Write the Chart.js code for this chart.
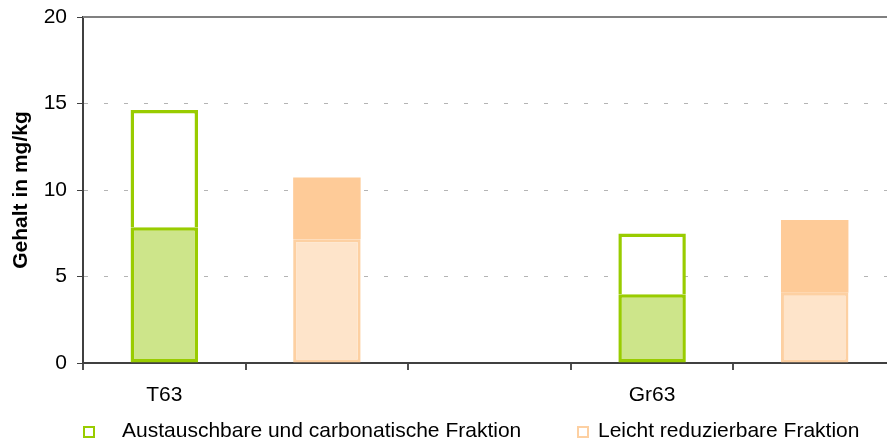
<!DOCTYPE html>
<html lang="de">
  <head>
    <meta charset="UTF-8" />
    <title>Gehalt in mg/kg</title>
    <script src="https://cdn.jsdelivr.net/npm/chart.js"></script>
    <style>
      html, body { margin: 0; padding: 0; background: #fff; overflow: hidden; }
      #wrap { position: relative; width: 896px; height: 441px; }
      #legend { font: 21px "Liberation Sans", Arial, sans-serif; color: #000; }
      .item { position: absolute; top: 418px; white-space: nowrap; line-height: 24px; }
      .box { position: absolute; top: 8px; width: 8px; height: 8px; border: 2px solid; background: #fff; }
    </style>
  </head>
  <body>
    <div id="wrap">
      <canvas id="chart" width="896" height="441"></canvas>
      <div id="legend"></div>
    </div>
    <script>
      const categories = ["T63", "", "", "Gr63", ""];
      const legendLabels = [
        "Austauschbare und carbonatische Fraktion",
        "Leicht reduzierbare Fraktion",
      ];
      // segment heights (mg/kg), stacked
      const greenLower = [7.85, null, null, 3.98, null];
      const greenUpper = [6.77, null, null, 3.51, null];
      const orangeLower = [null, 7.15, null, null, 4.06];
      const orangeUpper = [null, 3.57, null, null, 4.2];
      const yTicks = [0, 5, 10, 15, 20];

      const font = "'Liberation Sans', Arial, sans-serif";

      // solid line at the top value
      const topLine = {
        id: "topLine",
        beforeDatasetsDraw(chart) {
          const { ctx, chartArea, scales } = chart;
          const y = Math.round(scales.y.getPixelForValue(yTicks[yTicks.length - 1]));
          ctx.save();
          ctx.strokeStyle = "#808080";
          ctx.lineWidth = 2;
          ctx.beginPath();
          ctx.moveTo(chartArea.left, y);
          ctx.lineTo(chartArea.right, y);
          ctx.stroke();
          ctx.restore();
        },
      };

      const chart = new Chart(document.getElementById("chart"), {
        type: "bar",
        data: {
          labels: categories,
          datasets: [
            {
              label: legendLabels[0],
              data: greenLower,
              backgroundColor: "#cde58a",
              borderColor: "#99cc00",
              borderWidth: 3.5,
              borderSkipped: false,
              legend: true,
            },
            {
              label: legendLabels[0],
              data: greenUpper,
              backgroundColor: "#ffffff",
              borderColor: "#99cc00",
              borderWidth: 3.5,
            },
            {
              label: legendLabels[1],
              data: orangeLower,
              backgroundColor: "#fee4ca",
              borderColor: "#fdd0a2",
              borderWidth: 3,
              borderSkipped: false,
              legend: true,
            },
            {
              label: legendLabels[1],
              data: orangeUpper,
              backgroundColor: "#fecb98",
              borderWidth: 0,
            },
          ],
        },
        options: {
          responsive: false,
          animation: false,
          layout: { padding: { top: 17, right: 0, bottom: 0, left: 0 } },
          datasets: { bar: { barPercentage: 0.415, categoryPercentage: 1 } },
          plugins: { legend: { display: false }, tooltip: { enabled: false } },
          scales: {
            x: {
              stacked: true,
              afterFit: (s) => { s.height = 78; },
              grid: {
                offset: true,
                drawOnChartArea: false,
                tickLength: 7,
                tickColor: "#505050",
                lineWidth: 2,
              },
              border: { color: "#404040", width: 2 },
              ticks: { color: "#000", padding: 13, font: { family: font, size: 21 } },
            },
            y: {
              stacked: true,
              min: 0,
              max: 20,
              afterFit: (s) => {
                s.width = 83;
                s.paddingTop = 0;
                s.paddingBottom = 0;
              },
              afterBuildTicks: (s) => { s.ticks = yTicks.map((v) => ({ value: v })); },
              grid: {
                color: (c) => (c.tick.value === 0 || c.tick.value === 20 ? "rgba(0,0,0,0)" : "#b4b4b4"),
                lineWidth: 1,
                tickLength: 6,
                tickColor: "#404040",
              },
              border: { color: "#404040", width: 2, dash: [4, 16] },
              ticks: { color: "#000", padding: 10, font: { family: font, size: 21 } },
              title: {
                display: true,
                text: "Gehalt in mg/kg",
                color: "#000",
                padding: { top: 9, bottom: 0 },
                font: { family: font, size: 21, weight: "bold" },
              },
            },
          },
        },
        plugins: [topLine],
      });

      // html legend from the flagged datasets
      const legendPos = [{ box: 83, text: 122 }, { box: 577, text: 598 }];
      const legendEl = document.getElementById("legend");
      chart.data.datasets
        .filter((d) => d.legend)
        .forEach((d, i) => {
          const box = document.createElement("span");
          box.className = "box";
          box.style.borderColor = d.borderColor;
          const wrapBox = document.createElement("div");
          wrapBox.className = "item";
          wrapBox.style.left = legendPos[i].box + "px";
          wrapBox.style.width = "12px";
          wrapBox.style.height = "24px";
          wrapBox.appendChild(box);
          const txt = document.createElement("div");
          txt.className = "item";
          txt.style.left = legendPos[i].text + "px";
          txt.textContent = d.label;
          legendEl.appendChild(wrapBox);
          legendEl.appendChild(txt);
        });
    </script>
  </body>
</html>
